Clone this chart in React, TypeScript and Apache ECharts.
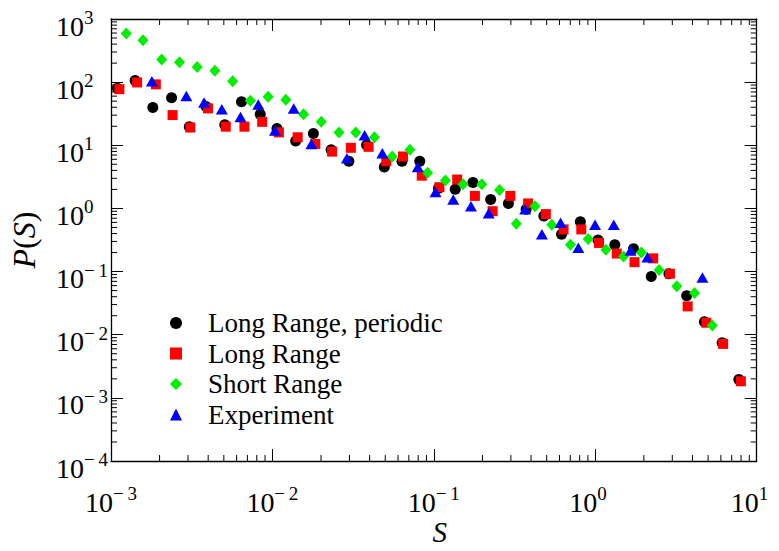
import React, { useEffect, useRef } from "react";
import * as echarts from "echarts";

// ---- data (S, P(S)) ----
const periodicS = [0.001096, 0.001411, 0.001816, 0.002373, 0.003055, 0.003879, 0.005068, 0.006433, 0.008403, 0.01067, 0.01393, 0.01793, 0.0231, 0.02975, 0.0383, 0.04932, 0.06351, 0.0818, 0.1068, 0.1357, 0.1747, 0.2249, 0.2896, 0.373, 0.4802, 0.6184, 0.808, 1.04, 1.321, 1.725, 2.222, 2.86, 3.683, 4.742, 6.107, 7.758];
const periodicP = [80.2, 106, 39.8, 56.5, 19.7, 41.2, 21.2, 49.1, 31.1, 18.4, 11.7, 15.4, 8.51, 5.59, 10.1, 4.53, 5.59, 5.59, 2.09, 2.02, 2.58, 1.38, 1.2, 0.969, 0.758, 0.39, 0.614, 0.316, 0.265, 0.23, 0.0833, 0.0926, 0.0413, 0.016, 0.00743, 0.00196];

const longS = [0.001127, 0.001451, 0.001896, 0.002406, 0.003099, 0.00399, 0.005139, 0.006709, 0.008641, 0.01097, 0.01433, 0.01845, 0.02343, 0.0306, 0.0394, 0.05074, 0.06442, 0.08414, 0.1083, 0.1395, 0.1796, 0.2312, 0.2978, 0.3836, 0.494, 0.6362, 0.8193, 1.055, 1.359, 1.75, 2.284, 2.9, 3.735, 4.878, 6.194, 7.978];
const longP = [77.4, 98.9, 92.3, 30.1, 19.1, 38.4, 19.7, 19.7, 23.5, 16.0, 13.4, 10.5, 7.94, 9.12, 9.46, 5.59, 6.65, 3.3, 2.17, 2.87, 1.58, 0.904, 1.58, 1.2, 0.813, 0.465, 0.465, 0.284, 0.193, 0.141, 0.162, 0.0926, 0.0281, 0.0155, 0.00716, 0.00183];

const shortS = [0.001243, 0.001579, 0.002062, 0.002655, 0.003419, 0.004402, 0.005669, 0.007298, 0.009401, 0.01211, 0.01559, 0.02007, 0.02585, 0.03283, 0.04287, 0.05521, 0.07108, 0.09154, 0.1179, 0.1518, 0.1983, 0.2553, 0.3242, 0.4234, 0.5377, 0.702, 0.9039, 1.164, 1.498, 1.93, 2.485, 3.2, 4.121, 5.307];
const shortP = [592, 462, 229, 206, 173, 151, 103, 50.8, 58.5, 52.6, 31.1, 23.5, 16.0, 16.0, 13.4, 6.65, 8.51, 3.67, 2.77, 2.41, 2.41, 1.95, 0.573, 1.08, 0.553, 0.265, 0.327, 0.222, 0.174, 0.2, 0.106, 0.0588, 0.0459, 0.014];

const expS = [0.001792, 0.002929, 0.003773, 0.004858, 0.006343, 0.008168, 0.01037, 0.01355, 0.01744, 0.02892, 0.03724, 0.04796, 0.07952, 0.1024, 0.1319, 0.1698, 0.2187, 0.3679, 0.467, 0.6098, 0.7854, 0.9972, 1.302, 1.653, 2.103, 4.612];
const expP = [103, 60.5, 47.4, 37.1, 28.0, 44.2, 17.1, 38.4, 10.5, 6.21, 14.4, 7.48, 4.53, 1.82, 1.38, 1.08, 0.841, 0.969, 0.39, 0.593, 0.238, 0.553, 0.553, 0.215, 0.168, 0.0805];

const seriesNames = ["Long Range, periodic", "Long Range", "Short Range", "Experiment"];
const xRange = [0.001, 10];
const yRange = [0.0001, 1000];
const tickExponents = [-4, -3, -2, -1, 0, 1, 2, 3];

const FONT = "'Liberation Serif', 'Times New Roman', serif";
const SUP_SIZE = 19;
const SUP_BOX = 24;

function pairs(xs: number[], ys: number[]) {
  return xs.map((x, i) => [x, ys[i]]);
}

function minorTicks(fromExp: number, toExp: number) {
  const out: number[] = [];
  for (let e = fromExp; e < toExp; e++) {
    for (let m = 2; m <= 9; m++) out.push(m * Math.pow(10, e));
  }
  return out;
}

function expText(e: number) {
  return e < 0 ? "\u2212\u2009" + -e : String(e);
}

function gapKey(e: number) {
  return "g" + (e < 0 ? "m" + -e : "p" + e);
}

function supLabel(v: number) {
  const e = Math.round(Math.log10(v));
  return `{b|10}{s|${expText(e)}}{${gapKey(e)}| }`;
}

function buildRich() {
  const rich: any = {
    b: { fontFamily: FONT, fontSize: 28, lineHeight: 28, verticalAlign: "bottom", color: "#000" },
    s: { fontFamily: FONT, fontSize: SUP_SIZE, padding: [0, 0, 13, 0], verticalAlign: "top", color: "#000" },
  };
  let ctx: CanvasRenderingContext2D | null = null;
  try {
    ctx = document.createElement("canvas").getContext("2d");
  } catch (e) {
    ctx = null;
  }
  if (ctx) ctx.font = `${SUP_SIZE}px ${FONT}`;
  tickExponents.forEach((e) => {
    const w = ctx ? ctx.measureText(expText(e)).width : e < 0 ? 24 : 10;
    rich[gapKey(e)] = { fontSize: 4, width: Math.max(0.1, SUP_BOX - w), color: "rgba(0,0,0,0)" };
  });
  return rich;
}

export default function App() {
  const ref = useRef<HTMLDivElement>(null);

  useEffect(() => {
    if (!ref.current) return;
    const chart = echarts.init(ref.current, null, { renderer: "svg" });
    const richTick = buildRich();

    const xMinor = minorTicks(-3, 1).map((v) => [v, 1]);
    const yMinor = minorTicks(-4, 3).map((v) => [1, v]);

    const baseAxis = (extra: any) => ({
      type: "log",
      logBase: 10,
      splitLine: { show: false },
      axisLine: { show: true, onZero: false, lineStyle: { color: "#000", width: 1.3 } },
      axisTick: { show: true, inside: true, length: 12, lineStyle: { color: "#000", width: 1 } },
      ...extra,
    });

    const option: any = {
      animation: false,
      backgroundColor: "#fff",
      grid: { left: 106, top: 19, right: 17, bottom: 72, containLabel: false },
      legend: {
        orient: "vertical",
        left: 170,
        top: 309.5,
        padding: 0,
        itemWidth: 12,
        itemHeight: 12,
        itemGap: 3.5,
        selectedMode: false,
        data: seriesNames,
        textStyle: { fontFamily: FONT, fontSize: 27, color: "#000", padding: [0, 0, 0, 21] },
      },
      xAxis: [
        baseAxis({
          position: "bottom",
          min: xRange[0],
          max: xRange[1],
          splitNumber: 4,
          name: "{i|S}",
          nameLocation: "middle",
          nameGap: 56,
          nameMoveOverlap: false,
          nameTextStyle: {
            padding: [0, 0, 0, 12],
            rich: { i: { fontFamily: FONT, fontSize: 29, fontStyle: "italic", color: "#000" } },
          },
          axisLabel: { margin: 23, formatter: supLabel, rich: richTick },
        }),
        baseAxis({
          position: "top",
          min: xRange[0],
          max: xRange[1],
          splitNumber: 4,
          axisLabel: { show: false },
        }),
      ],
      yAxis: [
        baseAxis({
          position: "left",
          min: yRange[0],
          max: yRange[1],
          splitNumber: 7,
          name: "{i|P}{r|(}{i|S}{r|)}",
          nameLocation: "middle",
          nameGap: 71,
          nameRotate: 90,
          nameMoveOverlap: false,
          nameTextStyle: {
            rich: {
              i: { fontFamily: FONT, fontSize: 32, fontStyle: "italic", color: "#000" },
              r: { fontFamily: FONT, fontSize: 32, color: "#000" },
            },
          },
          axisLabel: { margin: 3, padding: [10, 0, 0, 0], formatter: supLabel, rich: richTick },
        }),
        baseAxis({
          position: "right",
          min: yRange[0],
          max: yRange[1],
          splitNumber: 7,
          axisLabel: { show: false },
        }),
      ],
      series: [
        {
          type: "custom",
          silent: true,
          clip: false,
          xAxisIndex: 0,
          yAxisIndex: 0,
          data: xMinor,
          renderItem: (params: any, api: any) => {
            const cs = params.coordSys;
            const p = api.coord([api.value(0), api.value(1)]);
            const yb = cs.y + cs.height;
            return {
              type: "group",
              children: [
                { type: "line", shape: { x1: p[0], y1: yb, x2: p[0], y2: yb - 6 }, style: { stroke: "#000", lineWidth: 1 } },
                { type: "line", shape: { x1: p[0], y1: cs.y, x2: p[0], y2: cs.y + 6 }, style: { stroke: "#000", lineWidth: 1 } },
              ],
            };
          },
        },
        {
          type: "custom",
          silent: true,
          clip: false,
          xAxisIndex: 0,
          yAxisIndex: 0,
          data: yMinor,
          renderItem: (params: any, api: any) => {
            const cs = params.coordSys;
            const p = api.coord([api.value(0), api.value(1)]);
            const xr = cs.x + cs.width;
            return {
              type: "group",
              children: [
                { type: "line", shape: { x1: cs.x, y1: p[1], x2: cs.x + 6, y2: p[1] }, style: { stroke: "#000", lineWidth: 1 } },
                { type: "line", shape: { x1: xr, y1: p[1], x2: xr - 6, y2: p[1] }, style: { stroke: "#000", lineWidth: 1 } },
              ],
            };
          },
        },
        {
          name: seriesNames[0],
          type: "scatter",
          symbol: "circle",
          symbolSize: 11,
          itemStyle: { color: "#000000", opacity: 1 },
          data: pairs(periodicS, periodicP),
          z: 3,
        },
        {
          name: seriesNames[1],
          type: "scatter",
          symbol: "rect",
          symbolSize: 10,
          itemStyle: { color: "#ff0000", opacity: 1 },
          data: pairs(longS, longP),
          z: 4,
        },
        {
          name: seriesNames[2],
          type: "scatter",
          symbol: "diamond",
          symbolSize: [11, 12],
          itemStyle: { color: "#00ee00", opacity: 1 },
          data: pairs(shortS, shortP),
          z: 5,
        },
        {
          name: seriesNames[3],
          type: "scatter",
          symbol: "triangle",
          symbolSize: [12, 10.5],
          itemStyle: { color: "#0000ff", opacity: 1 },
          data: pairs(expS, expP),
          z: 6,
        },
      ],
    };

    chart.setOption(option);
    return () => chart.dispose();
  }, []);

  return (
    <div
      ref={ref}
      style={{ position: "fixed", left: 0, top: 0, width: 779, height: 551, background: "#fff" }}
    />
  );
}
